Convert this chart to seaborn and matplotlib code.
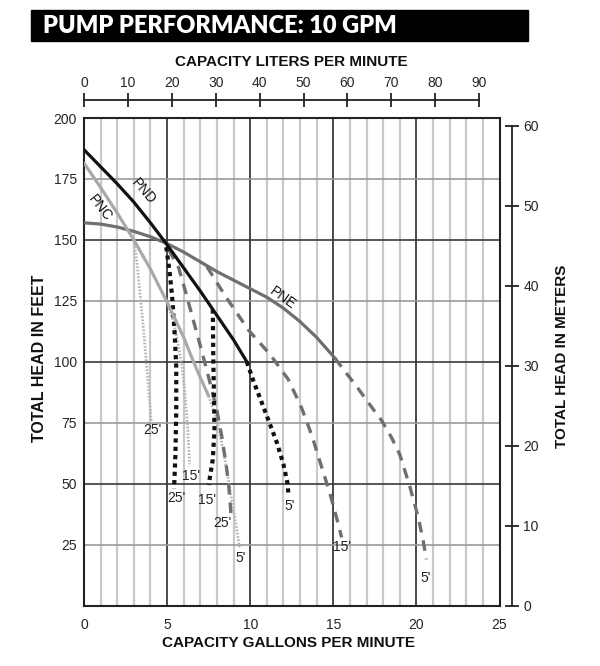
import matplotlib
matplotlib.use("Agg")
import matplotlib.pyplot as plt
from matplotlib.patches import Rectangle
import seaborn as sns

# ---------------- data (GPM, feet) ----------------
pnc_gpm = [0, 1, 2, 3, 4, 5, 6, 6.5, 7, 7.5]
pnc_ft = [181.5, 171.5, 161, 150, 138, 124.5, 110, 101.5, 93.5, 86]
pnd_gpm = [0, 1, 2, 3, 4, 5, 6, 7, 8, 9, 9.8]
pnd_ft = [187, 180, 173, 165.5, 157, 148, 138.5, 129, 119, 109, 100]
pne_gpm = [0, 1, 2, 3, 4, 5, 6, 7, 8, 9, 10, 11, 12, 13, 14, 15.1]
pne_ft = [157, 156.5, 155.3, 153.5, 151.3, 148.5, 145, 141, 137, 133.5, 130, 126.5, 122, 116.5, 110, 101.5]

pnc25_gpm = [3.0, 3.2, 3.4, 3.6, 3.75, 3.9, 4.0, 4.05]
pnc25_ft = [150, 140, 126, 112, 100, 88, 80, 75]
pnc15_gpm = [5.0, 5.4, 5.7, 5.9, 6.1, 6.25, 6.35]
pnc15_ft = [124.5, 116, 106, 98, 85, 72, 58]
pnc5_gpm = [7.5, 8.0, 8.4, 8.75, 9.05, 9.25, 9.35]
pnc5_ft = [86, 76, 63, 49, 37, 29, 24]

pnd25_gpm = [4.95, 5.15, 5.3, 5.45, 5.55, 5.55, 5.5, 5.42]
pnd25_ft = [147, 137, 127, 112, 98, 80, 62, 48]
pnd15_gpm = [7.75, 7.78, 7.82, 7.85, 7.75, 7.5]
pnd15_ft = [121.5, 101, 86, 72, 60, 49.5]
pnd5_gpm = [9.8, 10.2, 10.6, 11.1, 11.6, 12.0, 12.25, 12.3]
pnd5_ft = [100, 92, 85, 76, 67, 58, 50, 45.5]

pne25_gpm = [5.1, 5.7, 6.1, 6.5, 7.1, 7.6, 8.0, 8.3, 8.55, 8.7, 8.85]
pne25_ft = [146, 138.5, 129, 119, 104, 91, 80, 69, 58, 50, 37]
pne15_gpm = [7.4, 8.5, 9.9, 11.2, 12.3, 13.1, 13.7, 14.2, 14.8, 15.2, 15.5]
pne15_ft = [139, 127, 113, 103, 92.7, 81, 70, 59, 46, 36, 28]
pne5_gpm = [15.1, 15.6, 16.5, 17.3, 17.9, 18.5, 19.0, 19.6, 20.1, 20.4, 20.6]
pne5_ft = [101.5, 97, 89, 81.5, 76, 69, 62, 49, 36.5, 27, 19]

depth_labels = ["25'", "15'", "25'", "15'", "25'", "5'", "5'", "15'", "5'"]
depth_label_gpm = [4.1, 6.42, 5.58, 7.4, 8.35, 9.41, 12.4, 15.5, 20.56]
depth_label_ft = [72, 53, 44, 43.4, 33.8, 19.5, 40.7, 24.2, 11.3]

gpm_ticks = [0, 5, 10, 15, 20, 25]
ft_ticks = [25, 50, 75, 100, 125, 150, 175, 200]
lpm_ticks = [0, 10, 20, 30, 40, 50, 60, 70, 80, 90]
m_ticks = [0, 10, 20, 30, 40, 50, 60]

# ---------------- style ----------------
sns.set_style("white")
plt.rcParams["font.family"] = ["Liberation Sans", "DejaVu Sans"]

W, H = 600, 666
fig = plt.figure(figsize=(6, 6.66), dpi=100)

def fx(px):
    return px / W

def fy(py):
    return 1 - py / H

L, R, T, B = 84, 499.5, 118, 605.7
ax = fig.add_axes([fx(L), fy(B), (R - L) / W, (B - T) / H])
ax.set_xlim(0, 25)
ax.set_ylim(0, 200)

# grid
ax.set_xticks(gpm_ticks)
ax.set_xticks(range(0, 26), minor=True)
ax.set_yticks([0] + ft_ticks)
ax.set_yticklabels([""] + [str(t) for t in ft_ticks])
ax.grid(which="minor", axis="x", color="#c9c9c9", lw=1.6, zorder=0)
ax.grid(which="major", axis="x", color="#2a2a2a", lw=1.2, zorder=0.5)
ax.grid(which="major", axis="y", color="#9a9a9a", lw=1.2, zorder=0.5)
for t, gl in zip([0] + ft_ticks, ax.get_ygridlines()):
    if t in (50, 100, 150):
        gl.set_color("#3a3a3a")
ax.tick_params(axis="both", which="both", length=0)
ax.tick_params(axis="y", pad=5, labelsize=10)
ax.tick_params(axis="x", pad=9, labelsize=10)
for s in ax.spines.values():
    s.set_color("#222")
    s.set_linewidth(1.5)
ax.set_xlabel("")
ax.set_ylabel("")

def draw(xs, ys, color, lw, ls, cap="butt"):
    sns.lineplot(x=xs, y=ys, ax=ax, sort=False, estimator=None, color=color,
                 linewidth=lw, zorder=3)
    ln = ax.lines[-1]
    ln.set_linestyle(ls)
    ln.set_dash_capstyle(cap)
    ln.set_solid_joinstyle("round")

C_PNC = "#a9a9a9"
C_PND = "#111111"
C_PNE = "#6f6f6f"

# extension curves
draw(pnc25_gpm, pnc25_ft, "#b4b4b4", 2.0, (0, (0.6, 0.6)))
draw(pnc15_gpm, pnc15_ft, "#b4b4b4", 2.0, (0, (0.6, 0.6)))
draw(pnc5_gpm, pnc5_ft, "#b4b4b4", 2.0, (0, (0.6, 0.6)))
draw(pne25_gpm, pne25_ft, C_PNE, 2.4, (0, (3.2, 2.4)))
draw(pne15_gpm, pne15_ft, C_PNE, 2.4, (0, (3.2, 2.4)))
draw(pne5_gpm, pne5_ft, C_PNE, 2.4, (0, (3.2, 2.4)))
draw(pnd25_gpm, pnd25_ft, C_PND, 3.0, (0, (1, 1)))
draw(pnd15_gpm, pnd15_ft, C_PND, 3.0, (0, (1, 1)))
draw(pnd5_gpm, pnd5_ft, C_PND, 3.0, (0, (1, 1)))

# main curves
draw(pne_gpm, pne_ft, C_PNE, 2.3, "-", "round")
draw(pnc_gpm, pnc_ft, C_PNC, 2.3, "-", "round")
draw(pnd_gpm, pnd_ft, C_PND, 2.3, "-", "round")

for lab, gx, gy in zip(depth_labels, depth_label_gpm, depth_label_ft):
    ax.text(gx, gy, lab, ha="center", va="center", fontsize=10, color="#222", zorder=4)

ax.text(3.6, 170, "PND", rotation=-49, ha="center", va="center", fontsize=10, color="#111", zorder=4)
ax.text(0.97, 163, "PNC", rotation=-52, ha="center", va="center", fontsize=10, color="#111", zorder=4)
ax.text(11.98, 126.2, "PNE", rotation=-36, ha="center", va="center", fontsize=10, color="#111", zorder=4)

# top LPM axis
axt = fig.add_axes([fx(L), fy(100), (R - L) / W, 0.0001])
axt.set_xlim(0, 25 * 3.78541)
axt.set_facecolor("none")
for k in ("left", "right", "bottom"):
    axt.spines[k].set_visible(False)
axt.spines["top"].set_bounds(0, 90)
axt.spines["top"].set_color("#222")
axt.spines["top"].set_linewidth(1.3)
axt.set_yticks([])
axt.set_xticks(lpm_ticks)
axt.xaxis.set_ticks_position("top")
axt.xaxis.set_label_position("top")
axt.tick_params(axis="x", direction="inout", length=10, width=1.3, color="#222",
                labelsize=10, pad=2, top=True, bottom=False, labeltop=True, labelbottom=False)

# right meters axis
axr = fig.add_axes([fx(512), fy(B), 0.0001, (B - T) / H])
axr.set_ylim(0, 200 * 0.3048)
axr.set_facecolor("none")
for k in ("left", "top", "bottom"):
    axr.spines[k].set_visible(False)
axr.spines["right"].set_bounds(0, 60)
axr.spines["right"].set_color("#222")
axr.spines["right"].set_linewidth(1.3)
axr.set_xticks([])
axr.set_yticks(m_ticks)
axr.yaxis.set_ticks_position("right")
axr.tick_params(axis="y", direction="inout", length=10, width=1.3, color="#222",
                labelsize=10, pad=3, right=True, left=False, labelright=True, labelleft=False)

# titles
fig.patches.append(Rectangle((fx(31), fy(41)), (528 - 31) / W, 31 / H,
                             transform=fig.transFigure, color="black", zorder=0))
fig.text(fx(43), fy(26), "PUMP PERFORMANCE: 10 GPM", color="white", fontsize=17,
         fontweight="heavy", family=["Lato", "Liberation Sans", "DejaVu Sans"],
         va="center", ha="left")
fig.text(fx(291.5), fy(62), "CAPACITY LITERS PER MINUTE", fontsize=11, fontweight="bold",
         ha="center", va="center", color="#111")
fig.text(fx(289), fy(643), "CAPACITY GALLONS PER MINUTE", fontsize=11, fontweight="bold",
         ha="center", va="center", color="#111")
fig.text(fx(40), fy(358), "TOTAL HEAD IN FEET", fontsize=11.5, fontweight="bold",
         rotation=90, ha="center", va="center", color="#111")
fig.text(fx(562), fy(356), "TOTAL HEAD IN METERS", fontsize=11, fontweight="bold",
         rotation=90, ha="center", va="center", color="#111")

fig.savefig("out.png", dpi=100)
